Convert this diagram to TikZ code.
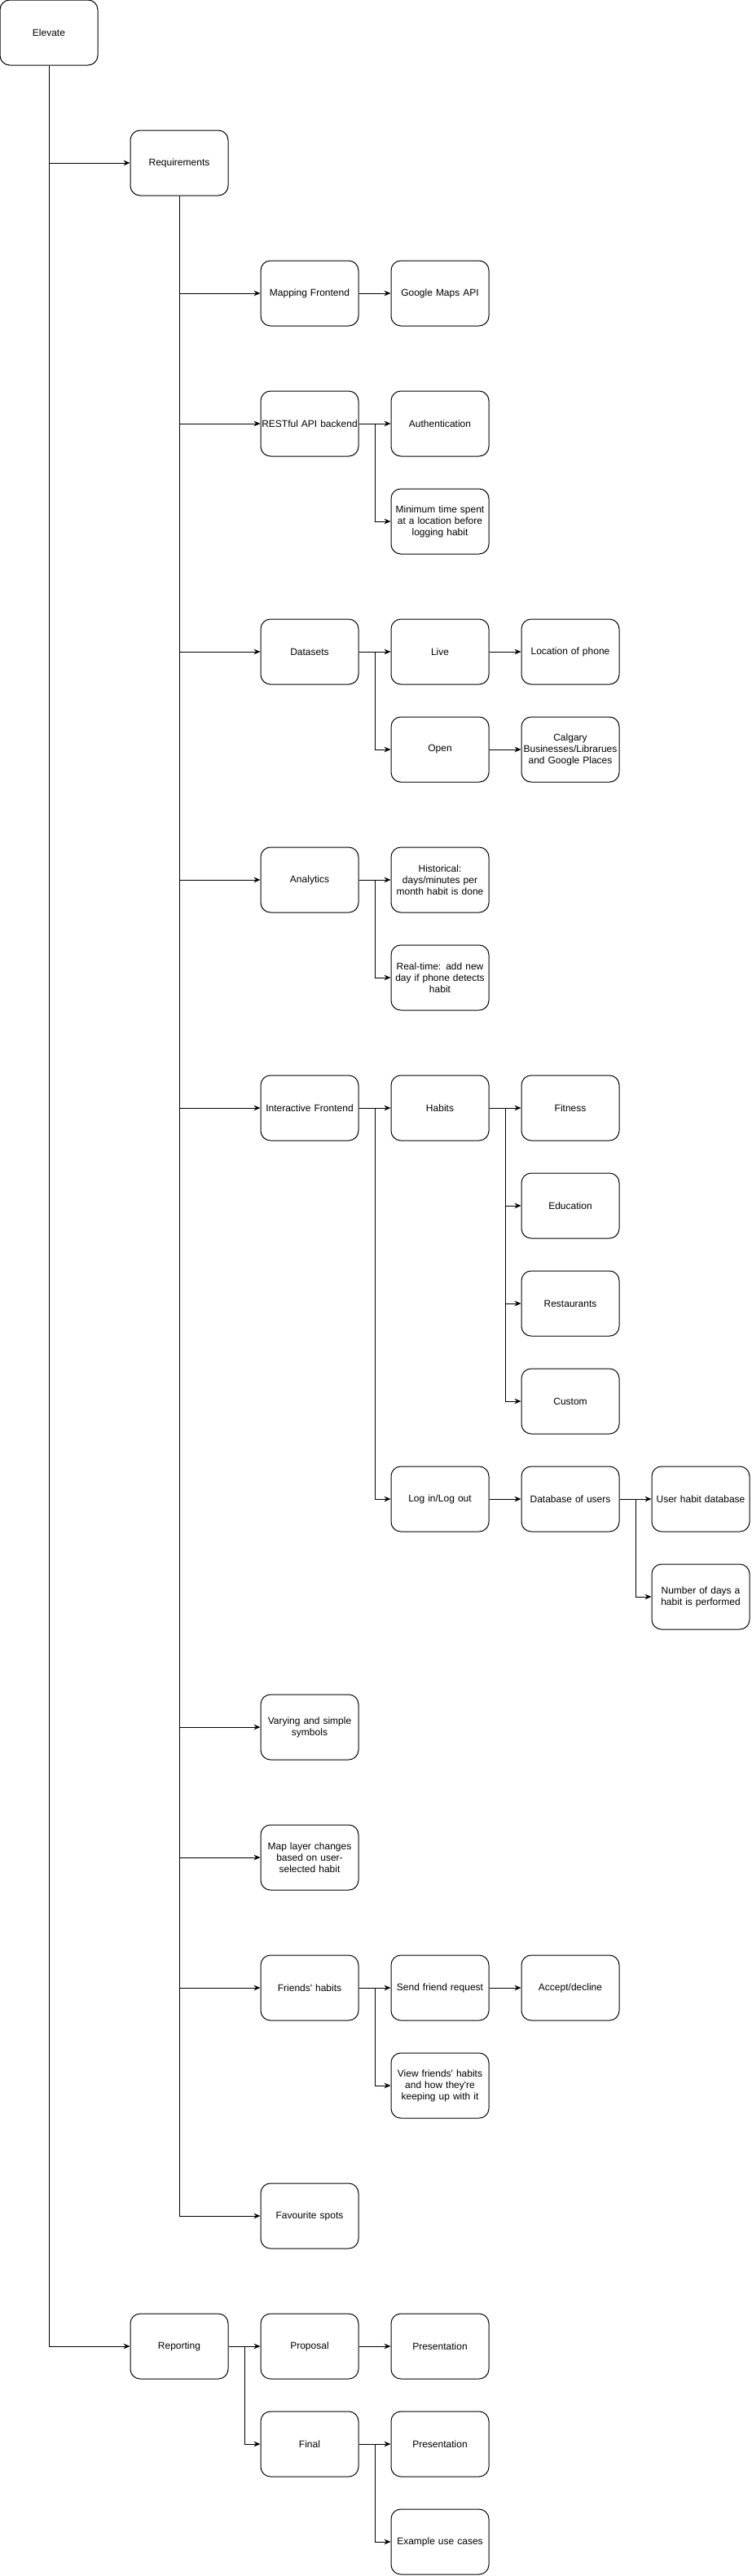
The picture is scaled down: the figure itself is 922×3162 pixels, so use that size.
\documentclass[tikz,border=0pt]{standalone}
\usepackage{fontspec}
\newfontfamily\drawfont{Liberation Sans}
\usetikzlibrary{arrows.meta}

\begin{document}
\begin{tikzpicture}[x=0.75pt,y=-0.75pt,line width=0.75pt,
  box/.style={draw,rounded corners=9pt,minimum width=90pt,minimum height=60pt,text width=90pt,inner xsep=0pt,align=center,font=\drawfont\fontsize{9}{10.5}\selectfont},
  arr/.style={-{Stealth[length=6pt,width=5pt,inset=2pt]}}]
\useasboundingbox (0,0) rectangle (922,3162);

\node[box] (elev) at (60,40) {Elevate};
\node[box] (req) at (220,200) {Requirements};
\node[box] (rep) at (220,2880) {Reporting};

% requirements
\node[box] (mapfe) at (380,360) {Mapping Frontend};
\node[box] (gmaps) at (540,360) {Google Maps API};
\node[box] (rest) at (380,520) {RESTful API backend};
\node[box] (auth) at (540,520) {Authentication};
\node[box] (minv) at (540,640) {Minimum time spent\\at a location before\\logging habit};
\node[box] (data) at (380,800) {Datasets};
\node[box] (live) at (540,800) {Live};
\node[box] (locph) at (700,800) {Location of phone};
\node[box] (open) at (540,920) {Open};
\node[box] (calg) at (700,920) {Calgary\\Businesses/Librarues\\and Google Places};
\node[box] (anal) at (380,1080) {Analytics};
\node[box] (hist) at (540,1080) {Historical:\\days/minutes per\\month habit is done};
\node[box] (realt) at (540,1200) {Real-time: add new\\day if phone detects\\habit};
\node[box] (ifront) at (380,1360) {Interactive Frontend};
\node[box] (habits) at (540,1360) {Habits};
\node[box] (fit) at (700,1360) {Fitness};
\node[box] (edu) at (700,1480) {Education};
\node[box] (resto) at (700,1600) {Restaurants};
\node[box] (cust) at (700,1720) {Custom};
\node[box] (login) at (540,1840) {Log in/Log out};
\node[box] (dbusers) at (700,1840) {Database of users};
\node[box] (uhdb) at (860,1840) {User habit database};
\node[box] (ndays) at (860,1960) {Number of days a\\habit is performed};
\node[box] (vary) at (380,2120) {Varying and simple\\symbols};
\node[box] (maplay) at (380,2280) {Map layer changes\\based on user-\\selected habit};
\node[box] (friends) at (380,2440) {Friends' habits};
\node[box] (sendfr) at (540,2440) {Send friend request};
\node[box] (acc) at (700,2440) {Accept/decline};
\node[box] (viewfr) at (540,2560) {View friends' habits\\and how they're\\keeping up with it};
\node[box] (fav) at (380,2720) {Favourite spots};

% reporting
\node[box] (prop) at (380,2880) {Proposal};
\node[box] (pres1) at (540,2880) {Presentation};
\node[box] (final) at (380,3000) {Final};
\node[box] (pres2) at (540,3000) {Presentation};
\node[box] (excases) at (540,3120) {Example use cases};

\draw[arr] (elev.south) |- (req.west);
\draw[arr] (elev.south) |- (rep.west);
\foreach \n in {mapfe,rest,data,anal,ifront,vary,maplay,friends,fav}
  \draw[arr] (req.south) |- (\n.west);

\foreach \a/\b in {mapfe/gmaps,rest/auth,data/live,live/locph,open/calg,anal/hist,ifront/habits,habits/fit,login/dbusers,dbusers/uhdb,friends/sendfr,sendfr/acc,rep/prop,prop/pres1,final/pres2}
  \draw[arr] (\a.east) -- (\b.west);

\foreach \a/\b in {rest/minv,data/open,anal/realt,ifront/login,habits/edu,habits/resto,habits/cust,dbusers/ndays,friends/viewfr,rep/final,final/excases}
  \draw[arr] (\a.east) -- ++(20,0) |- (\b.west);
\end{tikzpicture}
\end{document}
